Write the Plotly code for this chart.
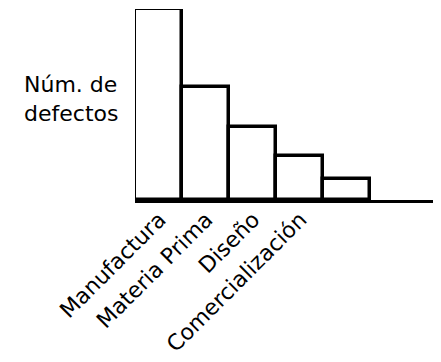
import plotly.graph_objects as go

# Data (relative number of defects per cause)
categories = ["Manufactura", "Materia Prima", "Diseño", "Comercialización", ""]
defects = [100, 59, 38, 23, 11]
positions = list(range(len(categories)))
y_title = "Núm. de<br>defectos"

FONT = "DejaVu Sans, Liberation Sans, Arial, sans-serif"

fig = go.Figure()
fig.add_trace(go.Bar(
    x=positions,
    y=defects,
    width=1.0,
    marker=dict(color="white", line=dict(color="black", width=3.5)),
))

# the page body adds an 8px offset, so the figure is sized 8px smaller
fig.update_layout(
    width=433, height=354,
    margin=dict(l=127, r=1, t=1, b=162, autoexpand=False),
    paper_bgcolor="white", plot_bgcolor="white",
    showlegend=False,
    bargap=0,
    font=dict(family=FONT, color="black", size=22),
    xaxis=dict(
        range=[-0.5, 6.0], automargin=False,
        tickmode="array", tickvals=positions, ticktext=categories,
        tickangle=-45, ticks="", showgrid=False, zeroline=False,
        showline=True, linecolor="black", linewidth=3,
        tickfont=dict(family=FONT, size=22, color="black"),
        ticklabelshift=1, ticklabelstandoff=-5,
        fixedrange=True,
    ),
    yaxis=dict(
        range=[0, 100], automargin=False, showticklabels=False, ticks="",
        showgrid=False, zeroline=False, showline=False, fixedrange=True,
    ),
    annotations=[dict(
        text=y_title, xref="paper", yref="paper", x=-0.049, y=0.53,
        xanchor="right", yanchor="middle", showarrow=False, align="left",
        font=dict(family=FONT, size=22, color="black"),
    )],
)

fig.write_html("out.html")
